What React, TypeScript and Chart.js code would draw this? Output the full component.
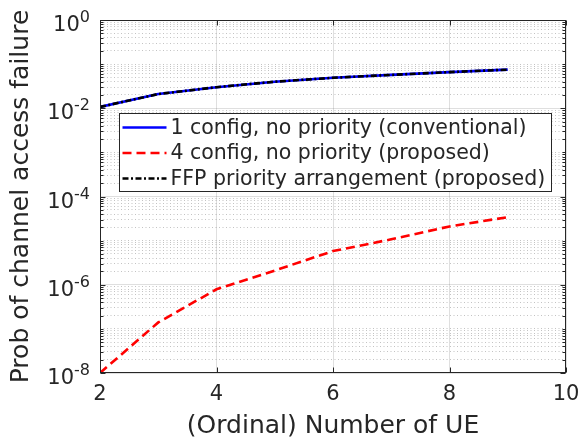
import React, { useEffect, useRef } from 'react';
import { Chart, registerables } from 'chart.js';

Chart.register(...registerables);

// ---- data ----
const ueCounts = [2, 3, 4, 5, 6, 7, 8, 9];
const conventional1Config = [0.0107, 0.021, 0.030, 0.040, 0.049, 0.057, 0.066, 0.075];
const proposed4Config = [1.0e-8, 1.4e-7, 7.9e-7, 2.1e-6, 5.8e-6, 1.07e-5, 2.1e-5, 3.4e-5];
const ffpPriority = [0.0107, 0.021, 0.030, 0.040, 0.049, 0.057, 0.066, 0.075];
const seriesLabels = [
  '1 config, no priority (conventional)',
  '4 config, no priority (proposed)',
  'FFP priority arrangement (proposed)',
];
const xTickValues = [2, 4, 6, 8, 10];
const yLabelExponents = [-8, -6, -4, -2, 0];
const xTitle = '(Ordinal) Number of UE';
const yTitle = 'Prob of channel access failure';

const FONT = '"DejaVu Sans", "Liberation Sans", sans-serif';
const TEXT = '#262626';
const MAJOR_GRID = 'rgba(38,38,38,0.15)';
const MINOR_GRID = 'rgba(38,38,38,0.28)';

const yMinExp = Math.min(...yLabelExponents);
const yMaxExp = Math.max(...yLabelExponents);

function buildLogTicks() {
  const out: { value: number }[] = [];
  for (let e = yMinExp; e <= yMaxExp; e++) {
    for (let m = 1; m <= 9; m++) {
      if (e === yMaxExp && m > 1) break;
      out.push({ value: m * Math.pow(10, e) });
    }
  }
  return out;
}

function isLabeledDecade(v: number) {
  const l = Math.log10(v);
  const r = Math.round(l);
  return Math.abs(l - r) < 1e-6 && yLabelExponents.includes(r);
}

const frameAndLabels = {
  id: 'frameAndLabels',
  afterDatasetsDraw(chart: any) {
    const { ctx, chartArea } = chart;
    const yScale = chart.scales.y;
    const xScale = chart.scales.x;
    const L = Math.round(chartArea.left) + 0.5;
    const R = Math.round(chartArea.right) - 0.5;
    const T = Math.round(chartArea.top) + 0.5;
    const B = Math.round(chartArea.bottom) - 0.5;
    ctx.save();
    ctx.strokeStyle = TEXT;
    ctx.lineWidth = 1;
    ctx.setLineDash([]);
    ctx.strokeRect(L, T, R - L, B - T);
    // inward tick marks
    ctx.beginPath();
    xTickValues.forEach((v) => {
      const x = Math.round(xScale.getPixelForValue(v)) + 0.5;
      ctx.moveTo(x, B); ctx.lineTo(x, B - 5);
      ctx.moveTo(x, T); ctx.lineTo(x, T + 5);
    });
    yScale.ticks.forEach((t: any) => {
      const y = Math.round(yScale.getPixelForValue(t.value)) + 0.5;
      const len = isLabeledDecade(t.value) ? 5 : 3;
      ctx.moveTo(L, y); ctx.lineTo(L + len, y);
      ctx.moveTo(R, y); ctx.lineTo(R - len, y);
    });
    ctx.stroke();
    // y tick labels: 10 with superscript exponent
    ctx.fillStyle = TEXT;
    ctx.textAlign = 'right';
    ctx.textBaseline = 'alphabetic';
    yLabelExponents.forEach((e) => {
      const y = yScale.getPixelForValue(Math.pow(10, e));
      const expText = String(e);
      ctx.font = `16px ${FONT}`;
      const supW = ctx.measureText(expText).width;
      const rightX = chartArea.left - 10;
      ctx.fillText(expText, rightX, y + 2);
      ctx.font = `21px ${FONT}`;
      ctx.fillText('10', rightX - supW, y + 11);
    });
    ctx.restore();
  },
  afterDraw(chart: any) {
    const { ctx, chartArea } = chart;
    const datasets = chart.data.datasets;
    ctx.save();
    ctx.font = `20.5px ${FONT}`;
    const maxW = Math.max(...datasets.map((d: any) => ctx.measureText(d.label).width));
    const left = Math.round(chartArea.left + 19) + 0.5;
    const top = Math.round(chartArea.top + 93) + 0.5;
    const textX = left + 51;
    const width = Math.round(textX - left + maxW + 6);
    const height = 78;
    ctx.fillStyle = '#ffffff';
    ctx.fillRect(left, top, width, height);
    ctx.strokeStyle = TEXT;
    ctx.lineWidth = 1;
    ctx.setLineDash([]);
    ctx.strokeRect(left, top, width, height);
    datasets.forEach((d: any, i: number) => {
      const y = top + 14 + i * 25.5;
      ctx.save();
      ctx.strokeStyle = d.borderColor;
      ctx.lineWidth = d.borderWidth;
      ctx.setLineDash(d.borderDash || []);
      ctx.beginPath();
      ctx.moveTo(left + 3, y);
      ctx.lineTo(left + 47, y);
      ctx.stroke();
      ctx.restore();
      ctx.fillStyle = TEXT;
      ctx.textAlign = 'left';
      ctx.textBaseline = 'middle';
      ctx.fillText(d.label, textX, y + 1);
    });
    ctx.restore();
  },
};

export default function App() {
  const canvasRef = useRef<HTMLCanvasElement | null>(null);

  useEffect(() => {
    document.body.style.margin = '0';
    const canvas = canvasRef.current;
    if (!canvas) return;
    const toPoints = (ys: number[]) => ueCounts.map((x, i) => ({ x, y: ys[i] }));
    const chart = new Chart(canvas, {
      type: 'line',
      data: {
        datasets: [
          {
            label: seriesLabels[0],
            data: toPoints(conventional1Config),
            borderColor: '#0000ff',
            borderWidth: 2.6,
            borderDash: [],
            pointRadius: 0,
            fill: false,
            tension: 0,
            order: 3,
          },
          {
            label: seriesLabels[1],
            data: toPoints(proposed4Config),
            borderColor: '#ff0000',
            borderWidth: 2.6,
            borderDash: [9, 5],
            pointRadius: 0,
            fill: false,
            tension: 0,
            order: 2,
          },
          {
            label: seriesLabels[2],
            data: toPoints(ffpPriority),
            borderColor: '#000000',
            borderWidth: 2.6,
            borderDash: [6, 2.5, 2, 2.5],
            pointRadius: 0,
            fill: false,
            tension: 0,
            order: 1,
          },
        ],
      },
      options: {
        responsive: false,
        animation: false,
        devicePixelRatio: 1,
        layout: { padding: { top: 20, right: 15, left: 0, bottom: 0 } },
        plugins: {
          legend: { display: false },
          tooltip: { enabled: false },
        },
        scales: {
          x: {
            type: 'linear',
            min: 2,
            max: 10,
            afterBuildTicks: (scale: any) => {
              scale.ticks = xTickValues.map((v) => ({ value: v }));
            },
            afterFit: (scale: any) => {
              scale.height = 70;
              scale.paddingLeft = 0;
              scale.paddingRight = 0;
            },
            ticks: {
              autoSkip: false,
              maxRotation: 0,
              padding: 9,
              color: TEXT,
              font: { family: FONT, size: 21 },
            },
            grid: { color: MAJOR_GRID, lineWidth: 1, drawTicks: false },
            border: { display: false },
            title: {
              display: true,
              text: xTitle,
              color: TEXT,
              font: { family: FONT, size: 25 },
              padding: { top: 0, bottom: 2 },
            },
          },
          y: {
            type: 'logarithmic',
            min: Math.pow(10, yMinExp),
            max: Math.pow(10, yMaxExp),
            afterBuildTicks: (scale: any) => {
              scale.ticks = buildLogTicks();
            },
            afterFit: (scale: any) => {
              scale.width = 100;
              scale.paddingTop = 0;
              scale.paddingBottom = 0;
            },
            ticks: { display: false, autoSkip: false },
            grid: {
              drawTicks: false,
              lineWidth: 1,
              color: (ctx: any) =>
                ctx.tick && isLabeledDecade(ctx.tick.value) ? MAJOR_GRID : MINOR_GRID,
            },
            border: {
              display: false,
              dash: (ctx: any) =>
                ctx.tick && !isLabeledDecade(ctx.tick.value) ? [1, 2.5] : [],
            },
            title: {
              display: true,
              text: yTitle,
              color: TEXT,
              font: { family: FONT, size: 25 },
              padding: { top: 6, bottom: 0 },
            },
          },
        },
      },
      plugins: [frameAndLabels],
    } as any);
    return () => chart.destroy();
  }, []);

  return (
    <div style={{ width: 581, height: 443 }}>
      <canvas ref={canvasRef} width={581} height={443} style={{ display: 'block' }} />
    </div>
  );
}
